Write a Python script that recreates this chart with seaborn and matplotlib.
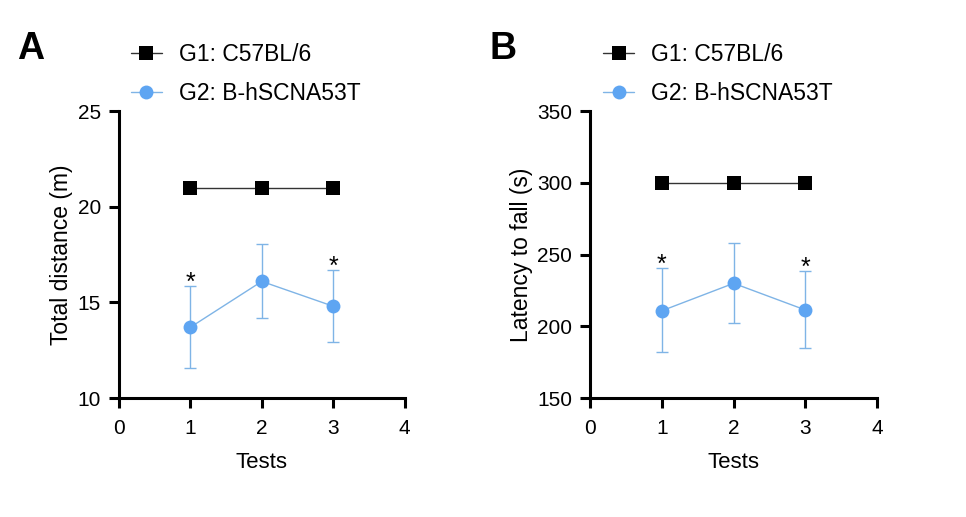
import pandas as pd
import matplotlib
matplotlib.use('Agg')
import matplotlib.pyplot as plt
import seaborn as sns

# Data
tests = [1, 2, 3]
g1_label = 'G1: C57BL/6'
g2_label = 'G2: B-hSCNA53T'

dist_g1 = [21.0, 21.0, 21.0]
dist_g2 = [13.7, 16.1, 14.8]
dist_g2_lo = [11.55, 14.2, 12.92]
dist_g2_hi = [15.85, 18.03, 16.7]

lat_g1 = [300.0, 300.0, 300.0]
lat_g2 = [210.9, 230.0, 211.4]
lat_g2_lo = [182.0, 202.6, 184.8]
lat_g2_hi = [240.4, 257.8, 238.3]

stars = ['*', '', '*']

sns.set_style('ticks')
plt.rcParams['font.family'] = ['Liberation Sans', 'DejaVu Sans']
plt.rcParams['text.color'] = 'black'
plt.rcParams['axes.labelcolor'] = 'black'

black = '#000000'
blue = '#5EA5F2'
light_blue = '#7FB4E6'

fig = plt.figure(figsize=(9.66, 5.17), dpi=100)
ax_a = fig.add_axes([0.123, 0.230, 0.296, 0.555])
ax_b = fig.add_axes([0.611, 0.230, 0.297, 0.555])


def draw_panel(ax, g1, g2, lo, hi, ylim, yticks, ylabel, letter, legend_x):
    df = pd.DataFrame({'Tests': tests * 2,
                       'value': g1 + g2,
                       'group': [g1_label] * 3 + [g2_label] * 3})
    sns.lineplot(data=df, x='Tests', y='value', hue='group', style='group',
                 palette=[black, blue], markers=['s', 'o'], dashes=False,
                 markersize=10, markeredgewidth=0, linewidth=1, ax=ax,
                 legend=False, zorder=3)
    ax.lines[0].set_color('#333333')
    ax.lines[0].set_markerfacecolor(black)
    ax.lines[1].set_color(light_blue)
    ax.lines[1].set_markerfacecolor(blue)
    yerr = [[m - l for m, l in zip(g2, lo)], [h - m for m, h in zip(g2, hi)]]
    ax.errorbar(tests, g2, yerr=yerr, fmt='none', ecolor=light_blue,
                elinewidth=1, capsize=4.5, capthick=1, zorder=2)
    for x, h, s in zip(tests, hi, stars):
        if s:
            ax.annotate(s, (x, h), xytext=(0, 2.5), textcoords='offset points',
                        ha='center', va='center', fontsize=18)

    ax.set_xlim(0, 4)
    ax.set_xticks([0, 1, 2, 3, 4])
    ax.set_ylim(*ylim)
    ax.set_yticks(yticks)
    ax.set_xlabel('Tests', fontsize=16, labelpad=10)
    ax.set_ylabel(ylabel, fontsize=16.5, labelpad=3)
    ax.tick_params(labelsize=15, width=2.2, length=7, color=black,
                   labelcolor=black, pad=6)
    ax.tick_params(axis='x', pad=8)
    for side in ['left', 'bottom']:
        ax.spines[side].set_linewidth(2.2)
        ax.spines[side].set_color(black)
    sns.despine(ax=ax)

    handles = [plt.Line2D([], [], color='#333333', marker='s', markersize=10,
                          markerfacecolor=black, markeredgewidth=0, linewidth=1),
               plt.Line2D([], [], color=light_blue, marker='o', markersize=10,
                          markerfacecolor=blue, markeredgewidth=0, linewidth=1)]
    fig.legend(handles, [g1_label, g2_label], loc='upper left',
               bbox_to_anchor=(legend_x, 0.935), frameon=False, fontsize=16.5,
               handlelength=1.35, handletextpad=0.75, labelspacing=0.7,
               borderaxespad=0)
    fig.text(legend_x - 0.108, 0.94, letter, fontsize=27, fontweight='bold',
             va='top', ha='left')


draw_panel(ax_a, dist_g1, dist_g2, dist_g2_lo, dist_g2_hi, (10, 25),
           [10, 15, 20, 25], 'Total distance (m)', 'A', 0.126)
draw_panel(ax_b, lat_g1, lat_g2, lat_g2_lo, lat_g2_hi, (150, 350),
           [150, 200, 250, 300, 350], 'Latency to fall (s)', 'B', 0.615)

fig.savefig('out.png', dpi=100)
